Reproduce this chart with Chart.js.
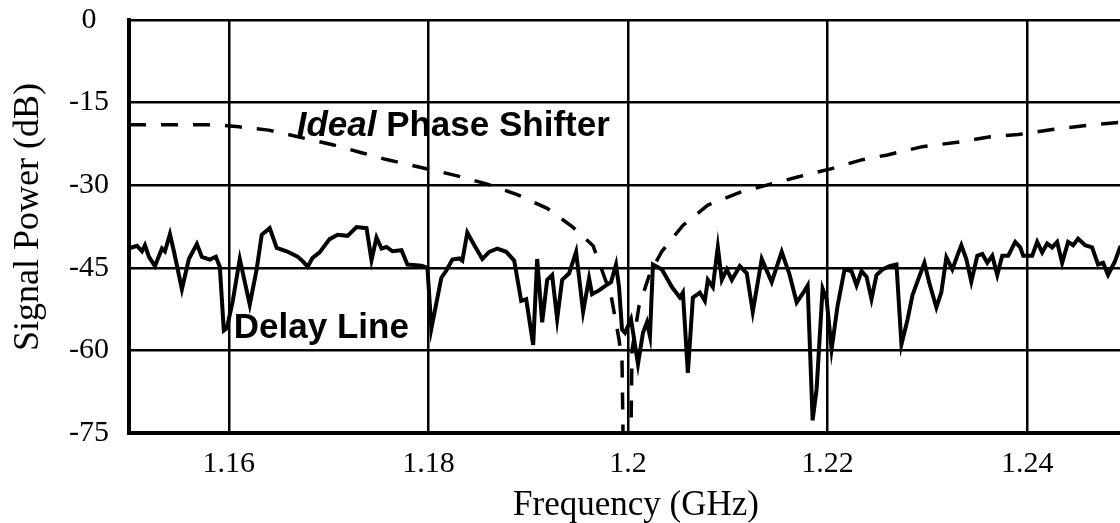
<!DOCTYPE html>
<html>
<head>
<meta charset="utf-8">
<script src="https://cdn.jsdelivr.net/npm/chart.js@4.4.1/dist/chart.umd.min.js"></script>
<style>
html, body { margin: 0; padding: 0; overflow: hidden; background: #fff; width: 1120px; height: 523px; }
canvas { display: block; }
</style>
</head>
<body>
<canvas id="c" width="1135" height="523"></canvas>
<script>
// Delay line measurement (frequency in GHz, signal power in dB)
const freqDelay = [1.1501,1.1508,1.1513,1.1516,1.1520,1.1526,1.1533,1.1536,1.1541,1.1545,1.1553,1.1560,1.1568,1.1573,1.1581,1.1587,1.1591,1.1595,1.1598,1.1604,1.1611,1.1621,1.1628,1.1633,1.1641,1.1648,1.1658,1.1669,1.1673,1.1679,1.1684,1.1691,1.1701,1.1709,1.1719,1.1728,1.1738,1.1743,1.1748,1.1753,1.1758,1.1764,1.1773,1.1779,1.1793,1.1799,1.1803,1.1813,1.1818,1.1824,1.1831,1.1834,1.1839,1.1846,1.1854,1.1861,1.1869,1.1878,1.1886,1.1893,1.1898,1.1905,1.1909,1.1914,1.1919,1.1924,1.1929,1.1934,1.1941,1.1948,1.1955,1.1961,1.1964,1.1971,1.1978,1.1983,1.1988,1.1991,1.1994,1.1997,1.2003,1.2010,1.2015,1.2019,1.2022,1.2025,1.2034,1.2044,1.2052,1.2055,1.2060,1.2065,1.2072,1.2077,1.2080,1.2085,1.2090,1.2094,1.2099,1.2104,1.2112,1.2119,1.2125,1.2134,1.2144,1.2154,1.2162,1.2169,1.2175,1.2180,1.2185,1.2189,1.2195,1.2199,1.2204,1.2210,1.2217,1.2224,1.2229,1.2234,1.2239,1.2244,1.2249,1.2255,1.2262,1.2269,1.2274,1.2280,1.2285,1.2290,1.2297,1.2302,1.2309,1.2314,1.2319,1.2325,1.2330,1.2334,1.2339,1.2344,1.2350,1.2355,1.2360,1.2365,1.2370,1.2375,1.2381,1.2388,1.2393,1.2396,1.2405,1.2410,1.2415,1.2420,1.2425,1.2430,1.2435,1.2441,1.2446,1.2451,1.2458,1.2465,1.2471,1.2476,1.2481,1.2488,1.2493,1.2500];
const powerDelay = [-41.4,-41.0,-42.0,-40.9,-43.0,-44.7,-41.5,-42.0,-38.9,-42.0,-48.9,-43.4,-40.7,-43.0,-43.5,-43.0,-44.8,-56.4,-56.0,-51.0,-43.4,-51.7,-45.2,-39.0,-37.8,-41.4,-42.0,-43.0,-43.6,-44.8,-43.2,-42.2,-39.8,-39.0,-39.2,-37.6,-37.8,-43.6,-39.5,-41.5,-41.2,-42.0,-41.8,-44.4,-44.6,-45.0,-56.0,-46.8,-45.5,-43.5,-43.3,-43.7,-38.6,-40.9,-43.4,-42.1,-41.5,-42.1,-43.7,-51.0,-50.7,-59.0,-43.4,-54.9,-47.2,-46.3,-54.3,-47.2,-46.0,-42.1,-53.0,-46.9,-49.8,-49.1,-48.2,-47.6,-44.4,-48.5,-56.2,-56.8,-54.3,-62.5,-56.8,-54.9,-57.4,-44.4,-45.3,-48.5,-50.4,-49.5,-64.1,-50.4,-49.5,-51.0,-47.2,-48.5,-41.2,-47.2,-45.3,-47.2,-44.7,-46.0,-53.0,-43.4,-47.6,-42.1,-46.3,-51.3,-49.7,-48.2,-72.7,-67.0,-48.8,-50.7,-59.8,-51.9,-45.3,-45.6,-48.2,-45.6,-46.6,-50.7,-46.3,-45.3,-44.7,-44.4,-58.9,-54.5,-50.0,-47.5,-44.1,-47.8,-52.2,-49.4,-43.1,-45.3,-42.8,-40.9,-43.4,-47.5,-42.8,-42.5,-44.1,-42.8,-46.3,-42.8,-42.8,-40.3,-41.3,-42.8,-42.8,-40.3,-42.2,-40.6,-41.3,-40.3,-44.1,-40.3,-40.9,-39.7,-40.9,-41.3,-44.4,-44.1,-46.3,-43.8,-41.3,-40.5];

// Ideal phase shifter (dashed)
const freqIdeal = [1.1500,1.1585,1.1610,1.1640,1.1674,1.1703,1.1733,1.1757,1.1798,1.1829,1.1859,1.1889,1.1919,1.1944,1.1965,1.1971,1.1983,1.1991,1.1994,1.1995,1.2003,1.2004,1.2011,1.2022,1.2034,1.2055,1.2080,1.2112,1.2147,1.2170,1.2204,1.2234,1.2260,1.2295,1.2330,1.2363,1.2391,1.2425,1.2457,1.2486,1.2500];
const powerIdeal = [-19.0,-19.0,-19.4,-20.0,-21.4,-22.6,-24.1,-25.3,-27.0,-28.3,-29.8,-31.7,-34.2,-37.5,-41.0,-44.0,-50.0,-58.0,-62.0,-75.0,-75.0,-60.0,-52.0,-46.0,-42.0,-37.3,-33.6,-31.3,-29.6,-28.5,-27.0,-25.4,-24.5,-23.0,-22.2,-21.2,-20.8,-19.9,-19.2,-18.7,-18.5];

const xTicks = [1.16, 1.18, 1.2, 1.22, 1.24];
const xTickLabels = ['1.16', '1.18', '1.2', '1.22', '1.24'];
const yTicks = [0, -15, -30, -45, -60, -75];
const yTickLabels = ['0', '-15', '-30', '-45', '-60', '-75'];
const xTitle = 'Frequency (GHz)';
const yTitle = 'Signal Power (dB)';

const serif = '"Liberation Serif", "Times New Roman", serif';
const sans = '"Liberation Sans", Arial, sans-serif';

const labelsPlugin = {
  id: 'labelsPlugin',
  afterDatasetsDraw(chart) {
    const ctx = chart.ctx;
    const xs = chart.scales.x, ys = chart.scales.y;
    ctx.save();
    ctx.fillStyle = '#000';
    ctx.textBaseline = 'alphabetic';
    ctx.textAlign = 'left';
    // Ideal Phase Shifter
    let x = xs.getPixelForValue(1.1668);
    const y1 = ys.getPixelForValue(-21.1);
    ctx.font = 'italic bold 35px ' + sans;
    ctx.fillText('Ideal', x, y1);
    x += ctx.measureText('Ideal ').width;
    ctx.font = 'bold 35px ' + sans;
    ctx.fillText('Phase Shifter', x, y1);
    // Delay Line
    ctx.fillText('Delay Line', xs.getPixelForValue(1.1605), ys.getPixelForValue(-57.7));
    ctx.restore();
  },
  afterDraw(chart) {
    const ctx = chart.ctx;
    ctx.save();
    ctx.fillStyle = '#000';
    ctx.textAlign = 'center';
    ctx.textBaseline = 'middle';
    // x-axis title
    ctx.font = '35px ' + serif;
    ctx.fillText(xTitle, 636, 505.5);
    // y-axis title
    ctx.font = '36px ' + serif;
    ctx.translate(29, 217);
    ctx.rotate(-Math.PI / 2);
    ctx.fillText(yTitle, 0, 0);
    ctx.restore();
  }
};

new Chart(document.getElementById('c'), {
  type: 'line',
  data: {
    datasets: [
      {
        label: 'Ideal Phase Shifter',
        data: freqIdeal.map((f, i) => ({ x: f, y: powerIdeal[i] })),
        borderColor: '#000',
        borderWidth: 3.5,
        borderDash: [17, 15],
        pointRadius: 0,
        tension: 0,
        fill: false
      },
      {
        label: 'Delay Line',
        data: freqDelay.map((f, i) => ({ x: f, y: powerDelay[i] })),
        borderColor: '#000',
        borderWidth: 4,
        pointRadius: 0,
        tension: 0,
        fill: false
      }
    ]
  },
  options: {
    responsive: false,
    animation: false,
    devicePixelRatio: 1,
    layout: { padding: { top: 20, right: 8, left: 0, bottom: 0 } },
    plugins: { legend: { display: false }, tooltip: { enabled: false } },
    scales: {
      x: {
        type: 'linear',
        min: 1.15,
        max: 1.25,
        afterBuildTicks: s => { s.ticks = xTicks.map(v => ({ value: v })); },
        afterFit: s => { s.height = 90; s.paddingLeft = 0; s.paddingRight = 0; },
        ticks: {
          callback: (v, i) => xTickLabels[i],
          font: { family: serif, size: 30 },
          color: '#000',
          padding: 13,
          maxRotation: 0,
          autoSkip: false
        },
        grid: { color: '#000', lineWidth: 2.5, drawTicks: false },
        border: { display: true, color: '#000', width: 4 },
        title: { display: false }
      },
      y: {
        type: 'linear',
        min: -75,
        max: 0,
        afterBuildTicks: s => { s.ticks = yTicks.map(v => ({ value: v })); },
        afterFit: s => { s.width = 129; s.paddingTop = 0; s.paddingBottom = 0; },
        ticks: {
          callback: (v, i) => yTickLabels[i],
          font: { family: serif, size: 30 },
          color: '#000',
          padding: 20,
          crossAlign: 'center',
          autoSkip: false
        },
        grid: { color: '#000', lineWidth: 2.5, drawTicks: false },
        border: { display: true, color: '#000', width: 4 },
        title: { display: false }
      }
    }
  },
  plugins: [labelsPlugin]
});
</script>
</body>
</html>
